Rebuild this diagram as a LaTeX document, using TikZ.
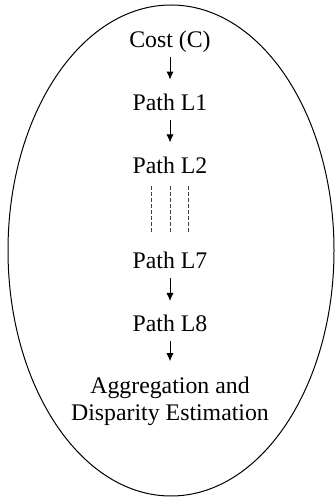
\documentclass[tikz,border=0pt]{standalone}
\usepackage{fontspec}
\setmainfont{Liberation Serif}
\usetikzlibrary{arrows.meta,positioning}

\begin{document}
\begin{tikzpicture}[
    every node/.style={font=\fontsize{11.9}{13.5}\selectfont, inner sep=0pt},
    stage/.style={text height=7.7pt, text depth=0pt},
    flow/.style={-{Latex[length=4pt,width=3.6pt]}, line width=0.5pt, shorten <=4.5pt, shorten >=7.5pt},
    skip/.style={dash pattern=on 2pt off 1pt, line width=0.4pt, black!75, shorten <=6pt, shorten >=10pt},
    node distance=23.3pt,
]
\useasboundingbox (0,0) rectangle (167pt,249pt);
\draw[line width=0.5pt] (85.5pt,123.75pt) ellipse [x radius=81.5pt, y radius=122.75pt];

\node[stage, anchor=south] (cost) at (85pt,225pt) {Cost (C)};
\node[stage, below=of cost] (l1) {Path L1};
\node[stage, below=of l1] (l2) {Path L2};
\node[stage, below=39.8pt of l2] (l7) {Path L7};
\node[stage, below=of l7] (l8) {Path L8};
\node[align=center, below=22pt of l8] (agg) {Aggregation and\\Disparity Estimation};

\draw[flow] (cost) -- (l1);
\draw[flow] (l1) -- (l2);
\draw[flow] (l7) -- (l8);
\draw[flow] (l8) -- (agg);
% skipped paths L3 to L6
\foreach \dx in {-9.25pt,0pt,9.25pt}
  \draw[skip] ([xshift=\dx]l2.south) -- ([xshift=\dx]l7.north);
\end{tikzpicture}
\end{document}
